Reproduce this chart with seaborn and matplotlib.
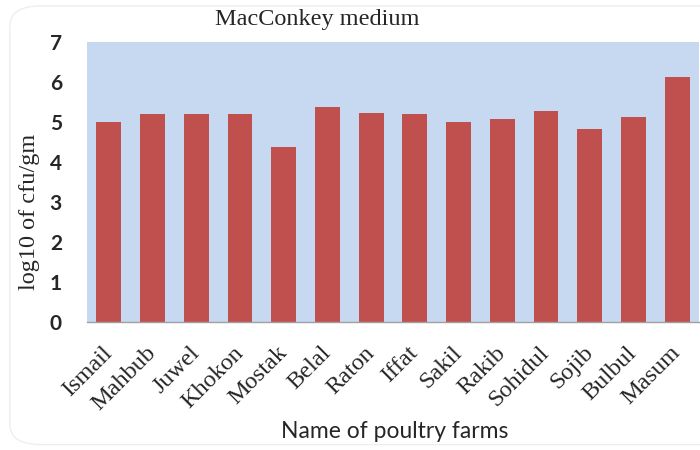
import matplotlib
matplotlib.use("Agg")
import matplotlib.pyplot as plt
import seaborn as sns
import pandas as pd
import numpy as np
from matplotlib.patches import FancyBboxPatch

farms = ["Ismail", "Mahbub", "Juwel", "Khokon", "Mostak", "Belal", "Raton",
         "Iffat", "Sakil", "Rakib", "Sohidul", "Sojib", "Bulbul", "Masum"]
log_cfu = [5.01, 5.19, 5.19, 5.19, 4.38, 5.37, 5.22, 5.19, 5.0, 5.07, 5.28, 4.83, 5.12, 6.12]
y_ticks = [0, 1, 2, 3, 4, 5, 6, 7]

title = "MacConkey medium"
ylabel = "log10 of cfu/gm"
xlabel = "Name of poultry farms"

sns.set_style("white")
df = pd.DataFrame({"farm": farms, "value": log_cfu})

fig = plt.figure(figsize=(7, 4.5), dpi=100)
ax = fig.add_axes([87/700, 1-322/450, 612/700, 280/450])
ax.set_facecolor("#C6D9F1")

sns.barplot(data=df, x="farm", y="value", color="#C0504D", saturation=1,
            width=0.57, ax=ax, edgecolor="none")

ax.set_xlim(-0.5, len(farms) - 0.5)
ax.set_ylim(0, 7)
ax.set_yticks(y_ticks)
ax.set_yticklabels([str(t) for t in y_ticks], fontfamily="Lato",
                   fontweight="bold", fontsize=15)
ax.tick_params(axis="y", length=0, pad=18)

ax.set_xticks(range(len(farms)))
ax.set_xticklabels(farms, rotation=45, ha="right", va="center",
                   rotation_mode="anchor",
                   fontfamily="Liberation Serif", fontsize=17.5)
ax.tick_params(axis="x", which="major", length=0, pad=20)
ax.set_xticks(np.arange(-0.5, len(farms), 1.0), minor=True)
ax.tick_params(axis="x", which="minor", length=6, color="#A0A0A0", width=1)

for s in ["top", "right", "left"]:
    ax.spines[s].set_visible(False)
ax.spines["bottom"].set_color("#A0A0A0")
ax.spines["bottom"].set_linewidth(1)

ax.set_xlabel("")
ax.set_ylabel("")
fig.text(395/700, 1-431/450, xlabel, ha="center", va="center",
         fontfamily="Lato", fontsize=16.5)
fig.text(30/700, 1-212/450, ylabel, ha="center", va="center", rotation=90,
         fontfamily="Liberation Serif", fontsize=17.5)
fig.text(317/700, 1-20/450, title, ha="center", va="center",
         fontfamily="Liberation Serif", fontsize=17.5)

border = FancyBboxPatch((0.014, 0.012), 1.1, 0.975, boxstyle="round,pad=0,rounding_size=0.045",
                        transform=fig.transFigure, facecolor="none",
                        edgecolor="#EEEEEE", linewidth=1, zorder=-1)
fig.patches.append(border)

fig.savefig("out.png", dpi=100)
